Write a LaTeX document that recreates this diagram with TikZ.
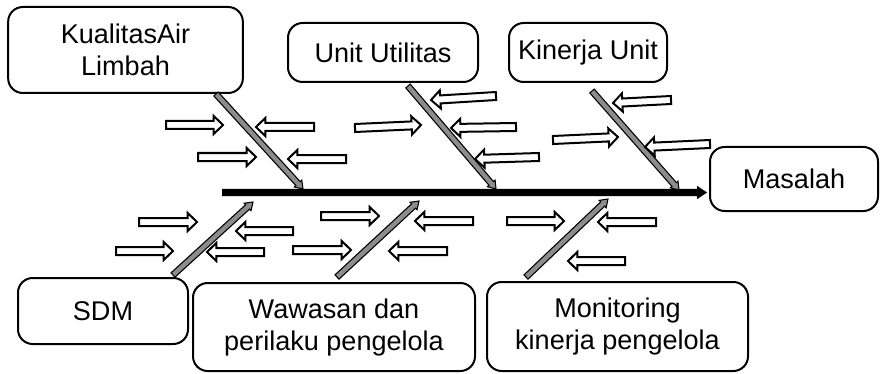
\documentclass[tikz,border=0pt]{standalone}
\usepackage{fontspec}
\setmainfont{Liberation Sans}
\usetikzlibrary{calc}

% block arrow drawn as a closed outline: #1 style, #2 tail, #3 tip,
% #4 shaft half width, #5 head half width, #6 head length
\newcommand\blockarrow[6]{%
  \coordinate (headbase) at ($(#3)!#6!(#2)$);
  \draw[#1] ($(#2)!#4!90:(#3)$) -- ($(headbase)!#4!90:(#3)$)
    -- ($(headbase)!#5!90:(#3)$) -- (#3)
    -- ($(headbase)!#5!-90:(#3)$) -- ($(headbase)!#4!-90:(#3)$)
    -- ($(#2)!#4!-90:(#3)$) -- cycle;}
\newcommand\hollow[2]{\blockarrow{hollowarrow}{#1}{#2}{3pt}{6.8pt}{7pt}}
\newcommand\bone[2]{\blockarrow{bonearrow}{#1}{#2}{2.2pt}{3.8pt}{5.5pt}}

\tikzset{
  cause/.style={draw, line width=1.5pt, rounded corners=11pt, inner sep=0pt,
    align=center, font=\fontsize{20.3}{24}\selectfont},
  hollowarrow/.style={draw, fill=white, line width=1.5pt, line join=miter},
  bonearrow/.style={draw, fill=black!45, line width=0.8pt, line join=miter},
  spinearrow/.style={fill=black, draw=none},
}

\begin{document}
\begin{tikzpicture}[x=0.75pt, y=-0.75pt]
\useasboundingbox (0,0) rectangle (884,374);

% cause boxes and the problem box
\node[cause, minimum width=176pt, minimum height=64.5pt] (kual) at (125.5,50) {KualitasAir\\Limbah};
\node[cause, minimum width=142.5pt, minimum height=44.25pt] (util) at (383,52.5) {Unit Utilitas};
\node[cause, minimum width=118.5pt, minimum height=44.25pt] (kin) at (588,52.5) {Kinerja Unit};
\node[cause, minimum width=126pt, minimum height=48pt] (mas) at (794,179) {Masalah};
\node[cause, minimum width=127.5pt, minimum height=49.5pt] (sdm) at (103,311) {SDM};
\node[cause, minimum width=211.5pt, minimum height=66pt] (waw) at (334,327) {Wawasan dan\\perilaku pengelola};
\node[cause, minimum width=195.75pt, minimum height=66.75pt] (mon) at (617.5,326.5) {Monitoring\\kinerja pengelola};

% spine
\coordinate (spineS) at (222,192.5);
\coordinate (spineE) at (707,192.5);
\blockarrow{spinearrow}{spineS}{spineE}{2.7pt}{5pt}{7.5pt}

% bones
\coordinate (b1s) at (216,94);  \coordinate (b1e) at (303,189);
\coordinate (b2s) at (408,86);  \coordinate (b2e) at (496,189);
\coordinate (b3s) at (592,91);  \coordinate (b3e) at (679,190);
\coordinate (b4s) at (173,275); \coordinate (b4e) at (253,202);
\coordinate (b5s) at (337,277); \coordinate (b5e) at (419,201);
\coordinate (b6s) at (526,277); \coordinate (b6e) at (608,199);
\bone{b1s}{b1e}
\bone{b2s}{b2e}
\bone{b3s}{b3e}
\bone{b4s}{b4e}
\bone{b5s}{b5e}
\bone{b6s}{b6e}

% small arrows, upper half
\coordinate (p1a) at (166,125); \coordinate (p1b) at (223,125);
\coordinate (p2a) at (314,127); \coordinate (p2b) at (256,127);
\coordinate (p3a) at (198,157); \coordinate (p3b) at (256,157);
\coordinate (p4a) at (346,159); \coordinate (p4b) at (288,159);
\coordinate (p5a) at (496,96);  \coordinate (p5b) at (431,100);
\coordinate (p6a) at (355,128); \coordinate (p6b) at (421,125);
\coordinate (p7a) at (516,127); \coordinate (p7b) at (451,128);
\coordinate (p8a) at (539,157); \coordinate (p8b) at (475,159);
\coordinate (p9a) at (671,100); \coordinate (p9b) at (613,103);
\coordinate (p10a) at (553,140); \coordinate (p10b) at (618,137);
\coordinate (p11a) at (710,144); \coordinate (p11b) at (645,147);
\foreach \i in {1,...,11} {\hollow{p\i a}{p\i b}}

% small arrows, lower half
\coordinate (q1a) at (139,222); \coordinate (q1b) at (197,222);
\coordinate (q2a) at (116,251); \coordinate (q2b) at (173,251);
\coordinate (q3a) at (293,231); \coordinate (q3b) at (236,231);
\coordinate (q4a) at (264,252); \coordinate (q4b) at (207,252);
\coordinate (q5a) at (321,216); \coordinate (q5b) at (379,216);
\coordinate (q6a) at (473,221); \coordinate (q6b) at (415,221);
\coordinate (q7a) at (293,250); \coordinate (q7b) at (351,250);
\coordinate (q8a) at (447,251); \coordinate (q8b) at (389,251);
\coordinate (q9a) at (507,221); \coordinate (q9b) at (564,221);
\coordinate (q10a) at (656,222); \coordinate (q10b) at (598,222);
\coordinate (q11a) at (625,261); \coordinate (q11b) at (568,261);
\foreach \i in {1,...,11} {\hollow{q\i a}{q\i b}}
\end{tikzpicture}
\end{document}
